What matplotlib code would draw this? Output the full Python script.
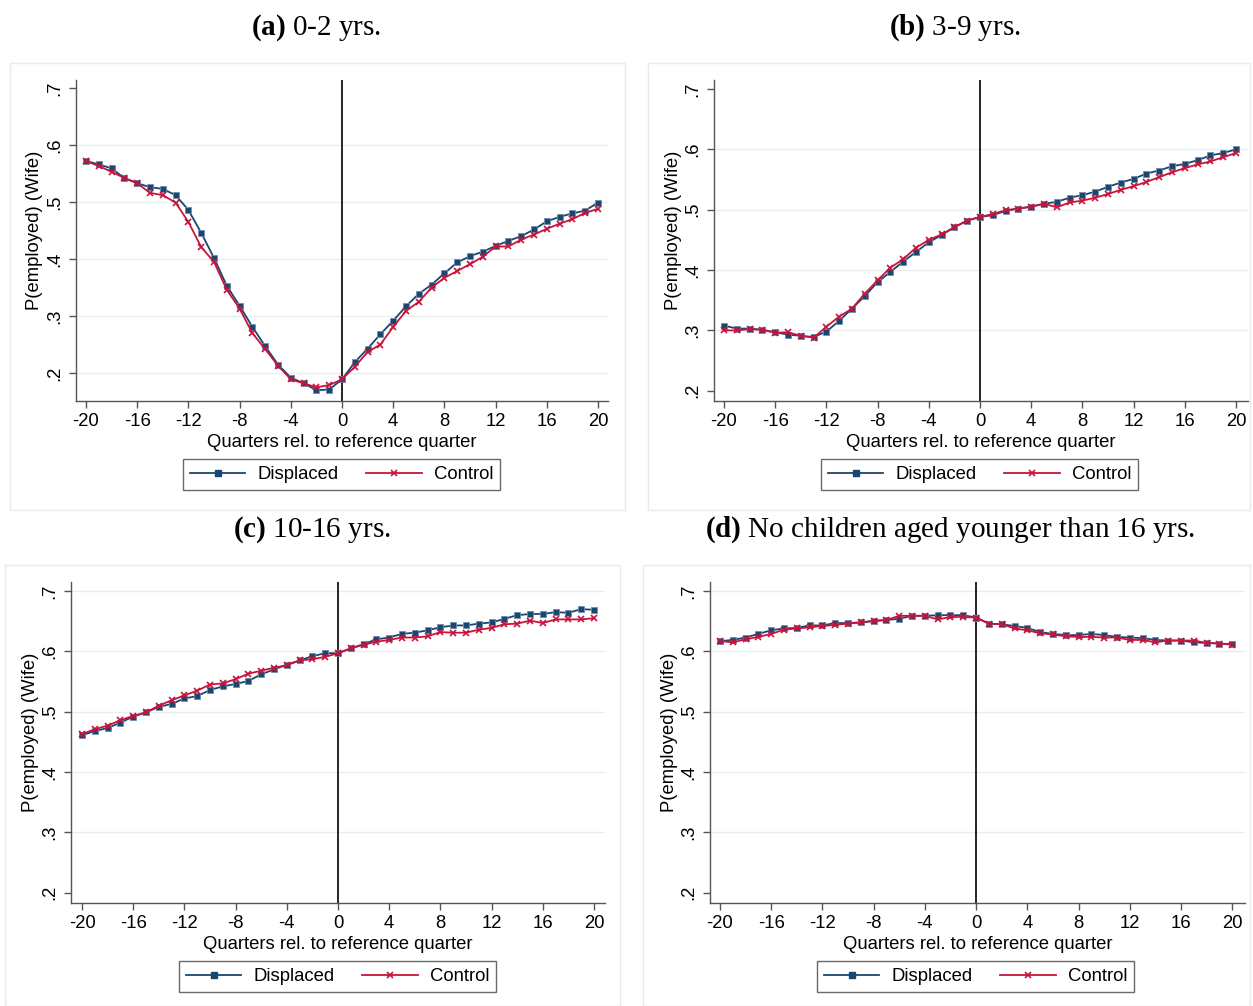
import matplotlib
matplotlib.use("Agg")
import matplotlib.pyplot as plt
from matplotlib.patches import Rectangle
from matplotlib.lines import Line2D

plt.rcParams["font.family"] = ["Liberation Sans", "DejaVu Sans"]
plt.rcParams["mathtext.fontset"] = "custom"
plt.rcParams["mathtext.bf"] = "Liberation Serif:bold"
plt.rcParams["mathtext.rm"] = "Liberation Serif"

quarters = list(range(-20, 21))

disp_a = [0.572, 0.566, 0.559, 0.542, 0.533, 0.526, 0.523, 0.512, 0.486, 0.446,
          0.402, 0.353, 0.318, 0.281, 0.247, 0.215, 0.192, 0.182, 0.170, 0.171,
          0.189, 0.219, 0.243, 0.268, 0.292, 0.317, 0.339, 0.355, 0.375, 0.394,
          0.405, 0.413, 0.423, 0.432, 0.440, 0.452, 0.466, 0.474, 0.480, 0.485,
          0.499]
ctrl_a = [0.572, 0.563, 0.553, 0.542, 0.533, 0.516, 0.512, 0.499, 0.465, 0.421,
          0.395, 0.346, 0.313, 0.270, 0.242, 0.213, 0.189, 0.182, 0.175, 0.179,
          0.189, 0.211, 0.237, 0.250, 0.281, 0.309, 0.325, 0.350, 0.367, 0.379,
          0.391, 0.404, 0.422, 0.422, 0.434, 0.443, 0.453, 0.462, 0.470, 0.481,
          0.488]

disp_b = [0.308, 0.303, 0.303, 0.301, 0.297, 0.293, 0.291, 0.289, 0.298, 0.316,
          0.336, 0.357, 0.380, 0.397, 0.414, 0.430, 0.446, 0.458, 0.471, 0.482,
          0.488, 0.491, 0.498, 0.502, 0.505, 0.510, 0.513, 0.520, 0.524, 0.530,
          0.538, 0.545, 0.551, 0.560, 0.565, 0.572, 0.576, 0.582, 0.590, 0.594,
          0.600]
ctrl_b = [0.300, 0.300, 0.302, 0.301, 0.296, 0.297, 0.291, 0.288, 0.306, 0.323,
          0.336, 0.361, 0.383, 0.404, 0.418, 0.437, 0.450, 0.459, 0.471, 0.482,
          0.488, 0.493, 0.499, 0.502, 0.505, 0.510, 0.504, 0.512, 0.515, 0.520,
          0.526, 0.533, 0.539, 0.546, 0.554, 0.562, 0.569, 0.575, 0.580, 0.587,
          0.594]

disp_c = [0.461, 0.468, 0.473, 0.482, 0.492, 0.499, 0.508, 0.513, 0.522, 0.526,
          0.536, 0.542, 0.546, 0.551, 0.562, 0.570, 0.578, 0.585, 0.592, 0.597,
          0.597, 0.605, 0.612, 0.620, 0.623, 0.629, 0.631, 0.635, 0.640, 0.643,
          0.643, 0.646, 0.648, 0.654, 0.660, 0.662, 0.662, 0.665, 0.664, 0.670,
          0.669]
ctrl_c = [0.463, 0.471, 0.477, 0.486, 0.493, 0.499, 0.510, 0.519, 0.527, 0.535,
          0.545, 0.547, 0.554, 0.563, 0.568, 0.573, 0.577, 0.585, 0.587, 0.591,
          0.597, 0.605, 0.611, 0.616, 0.619, 0.623, 0.623, 0.625, 0.632, 0.631,
          0.631, 0.636, 0.639, 0.645, 0.646, 0.651, 0.647, 0.653, 0.653, 0.653,
          0.655]

disp_d = [0.617, 0.619, 0.623, 0.629, 0.635, 0.638, 0.639, 0.643, 0.643, 0.647,
          0.647, 0.648, 0.650, 0.652, 0.654, 0.659, 0.659, 0.660, 0.660, 0.660,
          0.656, 0.646, 0.645, 0.642, 0.639, 0.632, 0.629, 0.627, 0.627, 0.629,
          0.627, 0.624, 0.623, 0.622, 0.619, 0.618, 0.618, 0.615, 0.614, 0.613,
          0.612]
ctrl_d = [0.617, 0.615, 0.620, 0.624, 0.629, 0.636, 0.638, 0.640, 0.642, 0.644,
          0.646, 0.648, 0.651, 0.652, 0.659, 0.659, 0.659, 0.653, 0.657, 0.657,
          0.656, 0.646, 0.645, 0.638, 0.635, 0.630, 0.628, 0.625, 0.624, 0.624,
          0.623, 0.623, 0.619, 0.619, 0.615, 0.618, 0.618, 0.618, 0.614, 0.613,
          0.611]

titles = [("a", "0-2 yrs."), ("b", "3-9 yrs."), ("c", "10-16 yrs."),
          ("d", "No children aged younger than 16 yrs.")]
xticks = list(range(-20, 21, 4))
yticks = [0.2, 0.3, 0.4, 0.5, 0.6, 0.7]
ytick_labels = [".2", ".3", ".4", ".5", ".6", ".7"]

W, H = 1253, 1006
NAVY = "#1a476f"
RED = "#c8143c"
GRID = "#e6eff0"
AXC = "#555555"
FS = 13.3

fig = plt.figure(figsize=(W / 100, H / 100), dpi=100)


def px_rect(l, t, r, b):
    return [l / W, 1 - b / H, (r - l) / W, (b - t) / H]


# panel layout in pixels: frame, axes box, x/y limits, grid levels, title centre
panels = [
    dict(frame=(10, 63, 625, 510), axes=(76, 80, 608, 401),
         xlim=(-20.78, 20.78), ylim=(0.151, 0.714), grid=[0.2, 0.3, 0.4, 0.5, 0.6],
         title=(316, 28), legend=(341.5, 474.5), ylab=35, data=(disp_a, ctrl_a)),
    dict(frame=(648, 63, 1250, 510), axes=(714, 80, 1248, 401),
         xlim=(-20.78, 20.94), ylim=(0.183, 0.715), grid=[0.3, 0.4, 0.5, 0.6],
         title=(955, 28), legend=(979.5, 474.5), ylab=674, data=(disp_b, ctrl_b)),
    dict(frame=(5, 565, 620, 1006), axes=(71, 582, 605, 903),
         xlim=(-20.86, 20.86), ylim=(0.183, 0.715), grid=[0.3, 0.4, 0.5, 0.6, 0.7],
         title=(312, 530), legend=(337.5, 976.5), ylab=31, data=(disp_c, ctrl_c)),
    dict(frame=(643, 565, 1250, 1006), axes=(710, 582, 1245, 903),
         xlim=(-20.78, 21.0), ylim=(0.183, 0.715), grid=[0.3, 0.4, 0.5, 0.6, 0.7],
         title=(950, 530), legend=(975.5, 976.5), ylab=670, data=(disp_d, ctrl_d)),
]

for p, (letter, tname) in zip(panels, titles):
    l, t, r, b = p["frame"]
    fig.patches.append(Rectangle((l / W, 1 - b / H), (r - l) / W, (b - t) / H,
                                 transform=fig.transFigure, fill=False,
                                 edgecolor="#e4ecec", linewidth=1.0))

    ax = fig.add_axes(px_rect(*p["axes"]))
    ax.set_xlim(*p["xlim"])
    ax.set_ylim(*p["ylim"])
    for g in p["grid"]:
        ax.axhline(g, color=GRID, linewidth=1.0, zorder=0)
    ax.axvline(0, color="black", linewidth=1.2, zorder=1)

    disp, ctrl = p["data"]
    ax.plot(quarters, disp, color=NAVY, linewidth=1.3, marker="s",
            markersize=5, markeredgewidth=0.6, markeredgecolor="#6f8fae",
            zorder=3, label="Displaced")
    ax.plot(quarters, ctrl, color=RED, linewidth=1.3, marker="x",
            markersize=4.5, markeredgewidth=1.2, zorder=4, label="Control")

    ax.set_xticks(xticks)
    ax.set_xticklabels([str(v) for v in xticks])
    ax.set_yticks(yticks)
    ax.set_yticklabels(ytick_labels, rotation=90, va="center")
    ax.tick_params(axis="both", colors=AXC, labelcolor="black",
                   labelsize=FS, length=5, width=1.0, direction="out")
    ax.tick_params(axis="y", pad=4)
    for side in ("top", "right"):
        ax.spines[side].set_visible(False)
    for side in ("left", "bottom"):
        ax.spines[side].set_color(AXC)
        ax.spines[side].set_linewidth(1.0)

    ax.set_xlabel("Quarters rel. to reference quarter", fontsize=FS, labelpad=3)

    al, at, ar, ab = p["axes"]
    fig.text(p["ylab"] / W, 1 - ((at + ab) / 2 - 10) / H, "P(employed) (Wife)",
             rotation=90, ha="center", va="center", fontsize=FS)

    fig.text(p["title"][0] / W, 1 - p["title"][1] / H,
             r"$\mathbf{(" + letter + ")}$ " + tname,
             ha="center", va="center", fontsize=21, family="Liberation Serif")

    handles = [
        Line2D([], [], color=NAVY, linewidth=1.3, marker="s", markersize=5),
        Line2D([], [], color=RED, linewidth=1.3, marker="x", markersize=4.5,
               markeredgewidth=1.2),
    ]
    lx, ly = p["legend"]
    leg = fig.legend(handles, ["Displaced", "Control"], ncol=2,
                     loc="center", bbox_to_anchor=(lx / W, 1 - ly / H),
                     fontsize=FS, frameon=True, fancybox=False,
                     edgecolor="#444444", handlelength=3.0, handletextpad=0.65,
                     columnspacing=1.5, borderpad=0.4, numpoints=1)
    leg.get_frame().set_linewidth(1.0)

fig.savefig("out.png", dpi=100, facecolor="white")
